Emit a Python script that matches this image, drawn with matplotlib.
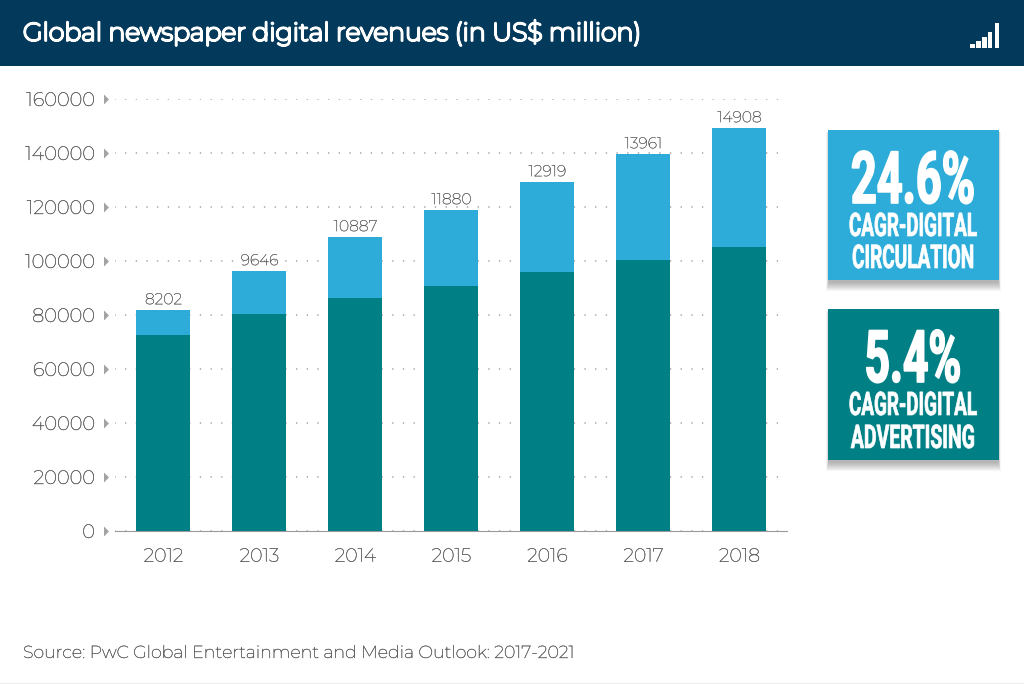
import matplotlib
matplotlib.use("Agg")
import matplotlib.pyplot as plt
import matplotlib.patheffects as pe
from matplotlib.patches import Rectangle
from matplotlib.path import Path
from matplotlib.transforms import Affine2D

years = ["2012", "2013", "2014", "2015", "2016", "2017", "2018"]
advertising = [72600, 80400, 86300, 90700, 95900, 100400, 105200]
circulation = [9250, 15900, 22600, 28200, 33360, 39200, 44060]
bar_labels = ["8202", "9646", "10887", "11880", "12919", "13961", "14908"]
y_ticks = [0, 20000, 40000, 60000, 80000, 100000, 120000, 140000, 160000]
title = "Global newspaper digital revenues (in US$ million)"
source = "Source: PwC Global Entertainment and Media Outlook: 2017-2021"

W, H = 1024, 684
NAVY, BLUE, TEAL, GREY = "#03395A", "#2DACD9", "#007F85", "#5F5F5F"
SANS = ["Montserrat", "Inter", "Lato", "DejaVu Sans"]
NARROW = ["Roboto", "DejaVu Sans"]

fig = plt.figure(figsize=(W / 100, H / 100), dpi=100, facecolor="white")
plt.rcParams["font.family"] = SANS


class StretchY(pe.AbstractPathEffect):
    """Stretches a text vertically about its baseline and thickens it."""

    def __init__(self, base_px, sy, stroke):
        super().__init__()
        self.base, self.sy, self.stroke = base_px, sy, stroke

    def draw_path(self, renderer, gc, tpath, affine, rgbFace=None):
        a = affine + Affine2D().translate(0, -self.base).scale(1, self.sy).translate(0, self.base)
        g = renderer.new_gc()
        g.copy_properties(gc)
        g.set_foreground("white")
        g.set_linewidth(self.stroke)
        renderer.draw_path(g, tpath, a, rgbFace)
        g.restore()


def px(x, y, w, h, **kw):
    fig.add_artist(Rectangle((x / W, 1 - (y + h) / H), w / W, h / H,
                             transform=fig.transFigure, lw=0, **kw))


def ptext(x, y, s, **kw):
    return fig.text(x / W, 1 - y / H, s, **kw)


def thick(lw, colour):
    return [pe.withStroke(linewidth=lw, foreground=colour)]


px(0, 0, W, 66, color=NAVY)
ptext(23, 33, title, color="white", fontsize=18.2, va="center", ha="left",
      path_effects=thick(1.7, "white"))
for x, top in zip([970, 976, 982, 987.5, 994.5], [44, 41, 37, 32, 23.5]):
    px(x, top, 4.5, 48 - top, color="white")

ax = fig.add_axes([115 / W, 1 - 531 / H, 672 / W, 432 / H])
pos = list(range(len(years)))
ax.bar(pos, advertising, width=0.5625, color=TEAL, zorder=3)
ax.bar(pos, circulation, bottom=advertising, width=0.5625, color=BLUE, zorder=3)
for p, a, c, lab in zip(pos, advertising, circulation, bar_labels):
    ax.annotate(lab, (p, a + c), xytext=(0, 2), textcoords="offset points",
                ha="center", va="bottom", fontsize=11.2, color=GREY, zorder=4,
                path_effects=thick(0.2, GREY))
ax.set_xlim(-0.505, 6.495)
ax.set_ylim(0, 160000)
ax.set_xticks(pos, years)
ax.set_yticks(y_ticks, [str(v) for v in y_ticks])
ax.tick_params(axis="x", length=0, pad=12, labelsize=13.6, labelcolor=GREY)
ax.tick_params(axis="y", length=0, pad=14.5, labelsize=14, labelcolor=GREY)
for t in ax.get_xticklabels() + ax.get_yticklabels():
    t.set_path_effects(thick(0.25, GREY))
for s in ["top", "right", "left"]:
    ax.spines[s].set_visible(False)
ax.spines["bottom"].set_color("#9A9A9A")
ax.spines["bottom"].set_linewidth(0.8)
ax.set_axisbelow(True)
ax.grid(axis="y", color="#A0A0A0", lw=1.2, linestyle=(0, (0.01, 6.4)),
        dash_capstyle="round", zorder=0)
ax.grid(axis="x", visible=False)
tri = Path([(-0.5, -1), (0.5, 0), (-0.5, 1), (-0.5, -1)], closed=True)
ax.scatter([-9 / 672] * len(y_ticks), y_ticks, marker=tri, s=52, color="#A3A3A3",
           lw=0, transform=ax.get_yaxis_transform(), clip_on=False, zorder=5)


def card(y, h, colour, big, l1, l2, bases, sizes):
    for i in range(1, 10):
        px(829 - i * 0.3, y + 2, 169 + i * 0.6, h + i, color="black", alpha=0.035)
    px(828, y, 171, h, color=colour)
    for s, b, (fs, sy, st) in zip((big, l1, l2), bases, sizes):
        ptext(913, b, s, color="white", fontsize=fs, fontweight="bold", ha="center",
              va="baseline", family=NARROW, path_effects=[StretchY(H - b, sy, st)])


card(130, 150, BLUE, "24.6%", "CAGR-DIGITAL", "CIRCULATION", (203, 236, 268),
     ((32.5, 1.6, 1.2), (13.6, 1.72, 0.5), (13.7, 1.72, 0.5)))
card(309, 151, TEAL, "5.4%", "CAGR-DIGITAL", "ADVERTISING", (382, 415, 448),
     ((32, 1.63, 1.2), (13.6, 1.72, 0.5), (14, 1.68, 0.5)))

ptext(23, 653, source, color=GREY, fontsize=12.55, ha="left", va="center",
      path_effects=thick(0.25, GREY))
px(0, 683, W, 1, color="#EEEEEE")
fig.savefig("out.png", dpi=100, facecolor="white")
